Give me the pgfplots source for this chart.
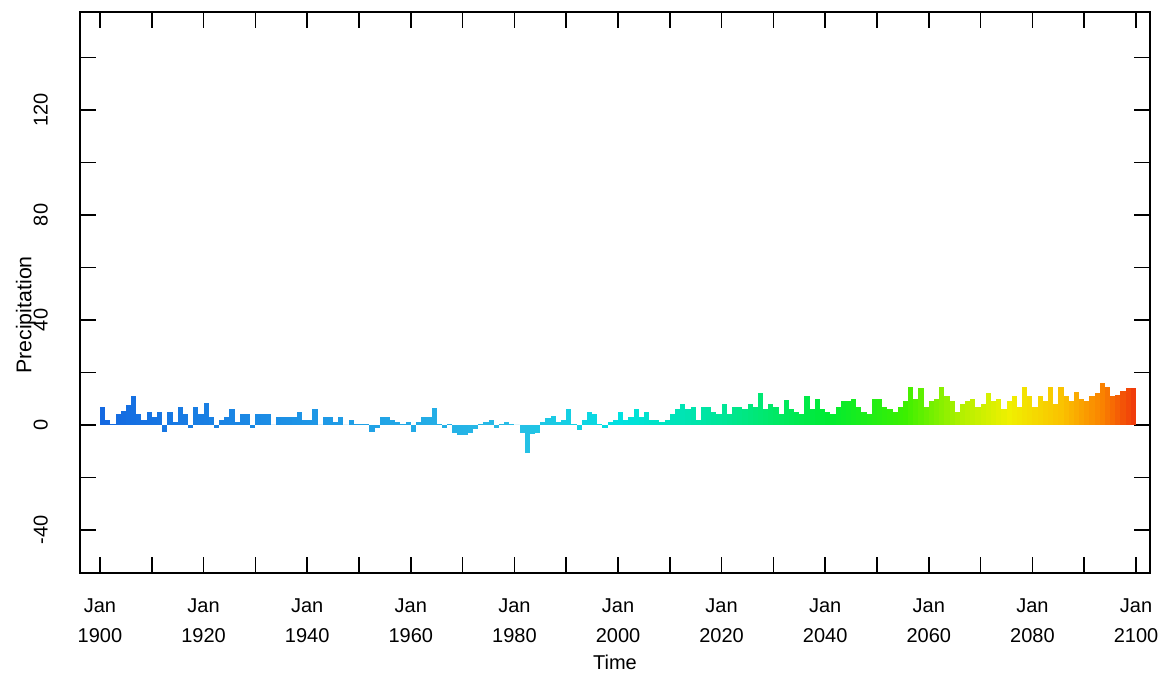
\documentclass[border=0pt]{standalone}
\usepackage{fontspec}
\setmainfont{Liberation Sans}
\usepackage{pgfplots}
\usepackage{pgfplotstable}
\pgfplotsset{compat=1.18}

\pgfplotstableread{
year val
1900 7
1901 2
1902 0.5
1903 4
1904 5.5
1905 7.5
1906 11
1907 4
1908 2
1909 5
1910 3
1911 5
1912 -2.5
1913 5
1914 1
1915 7
1916 4
1917 -1
1918 7
1919 4
1920 8.5
1921 3
1922 -1
1923 2
1924 3
1925 6
1926 1
1927 4
1928 4
1929 -1
1930 4
1931 4
1932 4
1933 0
1934 3
1935 3
1936 3
1937 3
1938 5
1939 2
1940 2
1941 6
1942 0
1943 3
1944 3
1945 1
1946 3
1947 0
1948 2
1949 0.5
1950 0.5
1951 0.5
1952 -2.5
1953 -1
1954 3
1955 3
1956 2
1957 1
1958 0.5
1959 1
1960 -2.5
1961 1
1962 3
1963 3
1964 6.5
1965 0.5
1966 -1
1967 0.5
1968 -3
1969 -4
1970 -4
1971 -3
1972 -1.5
1973 0.5
1974 1
1975 2
1976 -1
1977 0.5
1978 1
1979 0.3
1980 0
1981 -3
1982 -10.5
1983 -3.5
1984 -3
1985 1
1986 2.5
1987 3.5
1988 1
1989 2
1990 6
1991 0.5
1992 -2
1993 2
1994 5
1995 4
1996 0.5
1997 -1
1998 1
1999 2
2000 5
2001 2
2002 3
2003 6
2004 3
2005 5
2006 2
2007 2
2008 1
2009 2
2010 4
2011 6
2012 8
2013 6
2014 7
2015 2
2016 7
2017 7
2018 5
2019 4
2020 8
2021 4
2022 7
2023 7
2024 6
2025 8
2026 7
2027 12
2028 6
2029 8
2030 7
2031 4
2032 9.5
2033 6
2034 5
2035 4
2036 11
2037 6
2038 10
2039 6
2040 5
2041 4
2042 7
2043 9
2044 9
2045 10
2046 7
2047 5
2048 4
2049 10
2050 10
2051 7
2052 6
2053 5
2054 7
2055 9
2056 14.5
2057 10
2058 14
2059 7
2060 9
2061 10
2062 14.5
2063 11
2064 9
2065 5
2066 8
2067 9
2068 10
2069 7
2070 8
2071 12
2072 9
2073 10
2074 6
2075 9
2076 11
2077 7
2078 14.5
2079 11
2080 7
2081 11
2082 9
2083 14.5
2084 8
2085 14.5
2086 11
2087 9
2088 12.5
2089 10
2090 9
2091 11
2092 12
2093 16
2094 14.5
2095 11
2096 11.5
2097 13
2098 14
2099 14
}\datatable

\pgfplotsset{
  colormap={precip}{
    rgb255(0pt)=(20,105,225);
    rgb255(40pt)=(30,150,230);
    rgb255(80pt)=(40,190,230);
    rgb255(100pt)=(0,225,225);
    rgb255(120pt)=(0,230,150);
    rgb255(140pt)=(0,235,50);
    rgb255(155pt)=(60,240,0);
    rgb255(166pt)=(180,240,0);
    rgb255(175pt)=(240,240,0);
    rgb255(185pt)=(250,195,0);
    rgb255(193pt)=(250,130,0);
    rgb255(199pt)=(240,60,10)
  }
}

\begin{document}
\begin{tikzpicture}
\begin{axis}[
  scale only axis,
  width=802.5pt, height=420.75pt,
  xmin=1896.14, xmax=2102.7,
  ymin=-56.4, ymax=157.3,
  axis line style={line width=1.1pt},
  tick pos=both,
  tick align=inside,
  major tick length=12pt,
  minor tick length=12pt,
  every tick/.style={black, line width=1.1pt},
  xtick={1900,1920,...,2100},
  minor xtick={1910,1930,...,2090},
  xticklabels={{Jan\\1900},{Jan\\1920},{Jan\\1940},{Jan\\1960},{Jan\\1980},{Jan\\2000},{Jan\\2020},{Jan\\2040},{Jan\\2060},{Jan\\2080},{Jan\\2100}},
  xticklabel style={align=center, font=\fontsize{15}{22.5}\selectfont, inner sep=0pt},
  xticklabel shift=19pt,
  ytick={-40,0,40,80,120},
  minor ytick={-20,20,60,100,140},
  /pgf/number format/assume math mode=true,
  yticklabel style={rotate=90, anchor=south, font=\fontsize{15}{17}\selectfont, inner sep=0pt},
  yticklabel shift=24pt,
  xlabel={Time},
  xlabel style={at={(axis description cs:0.5,0)}, anchor=north, yshift=-61pt, inner sep=0pt, font=\fontsize{15}{17}\selectfont},
  ylabel={Precipitation},
  ylabel style={at={(axis description cs:-0.0505,0.46)}, anchor=center, font=\fontsize{16}{18}\selectfont},
]
\coordinate (bl) at (rel axis cs:0,0);
\coordinate (tr) at (rel axis cs:1,1);
\pgfplotsinvokeforeach{0,...,199}{
  \pgfplotstablegetelem{#1}{val}\of\datatable
  \pgfmathsetmacro\cm{#1/199*1000}
  \pgfmathsetmacro\xx{1900.5+#1}
  \edef\temp{\noexpand\addplot[ybar, bar width=1, bar shift=0pt, draw=none, fill, color of colormap=\cm] coordinates {(\xx,\pgfplotsretval)};}
  \temp
}
\end{axis}
\pgfresetboundingbox
\path[use as bounding box] ([xshift=-60pt,yshift=-75pt]bl) rectangle ([xshift=9.75pt,yshift=9pt]tr);
\end{tikzpicture}
\end{document}
